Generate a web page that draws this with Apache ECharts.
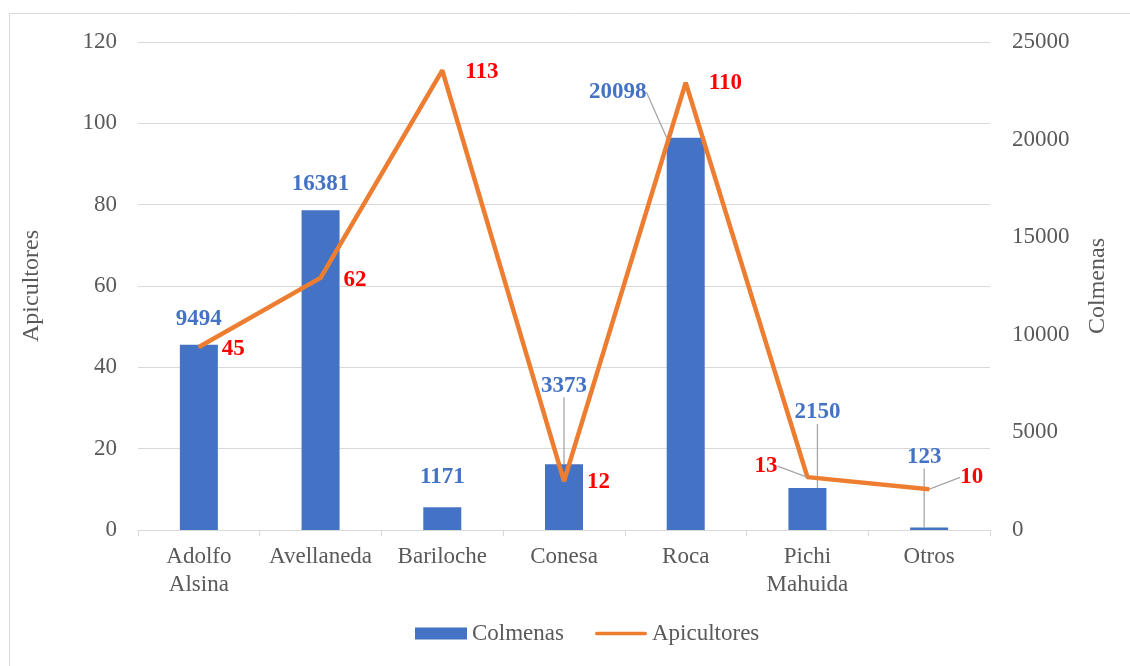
<!DOCTYPE html>
<html>
<head>
<meta charset="utf-8">
<script src="https://cdn.jsdelivr.net/npm/echarts@6/dist/echarts.min.js"></script>
<style>
html,body{margin:0;padding:0;background:#fff;}
#c{width:1130px;height:666px;}
</style>
</head>
<body>
<div id="c"></div>
<script>
const categories = ['Adolfo\nAlsina', 'Avellaneda', 'Bariloche', 'Conesa', 'Roca', 'Pichi\nMahuida', 'Otros'];
const colmenas = [9494, 16381, 1171, 3373, 20098, 2150, 123];
const apicultores = [45, 62, 113, 12, 110, 13, 10];
const leftTicks = {min: 0, max: 120, interval: 20};
const rightTicks = {min: 0, max: 25000, interval: 5000};

// label placement offsets (layout only)
const barLabelOffsets = [[0,-2],[0,-3],[0,-7],[0,-55],[-68,-22],[10,-52],[-5,-47]];
const barLabelLines = [false,false,false,true,true,true,true];
const lineLabelOffsets = [[0,2],[0,2],[0,2],[0,1],[0,0],[-76,-11],[8,-12]];
const lineLabelLines = [false,false,false,false,false,true,true];

const FONT = "'Liberation Serif', 'Times New Roman', serif";
const GRAY = '#595959';

const chart = echarts.init(document.getElementById('c'));
chart.setOption({
  animation: false,
  textStyle: {fontFamily: FONT},
  graphic: [{
    type: 'rect', left: 7, top: 11,
    shape: {width: 1140, height: 680},
    style: {fill: 'none', stroke: '#d9d9d9', lineWidth: 1},
    silent: true, z: -10
  }],
  grid: {left: 138, right: 140, top: 42, bottom: 136},
  legend: {
    bottom: 16, left: 410,
    itemWidth: 52, itemHeight: 12, itemGap: 31,
    textStyle: {fontFamily: FONT, fontSize: 23, color: GRAY},
    data: [
      {name: 'Colmenas', icon: 'rect'},
      {name: 'Apicultores', icon: 'path://M2,0h52a2,2 0 0 1 0,4h-52a2,2 0 0 1 0,-4z'}
    ]
  },
  xAxis: {
    type: 'category',
    data: categories,
    axisLine: {lineStyle: {color: '#d9d9d9'}},
    axisTick: {show: true, length: 6, lineStyle: {color: '#d9d9d9'}},
    axisLabel: {fontFamily: FONT, fontSize: 23, color: GRAY, lineHeight: 28, margin: 13, interval: 0}
  },
  yAxis: [{
    type: 'value',
    min: leftTicks.min, max: leftTicks.max, interval: leftTicks.interval,
    name: 'Apicultores', nameLocation: 'middle', nameGap: 94,
    nameTextStyle: {fontFamily: FONT, fontSize: 24, color: GRAY},
    axisLine: {show: false}, axisTick: {show: false},
    axisLabel: {fontFamily: FONT, fontSize: 23, color: GRAY, margin: 21},
    splitLine: {lineStyle: {color: '#d9d9d9', width: 1}}
  }, {
    type: 'value',
    min: rightTicks.min, max: rightTicks.max, interval: rightTicks.interval,
    name: 'Colmenas', nameLocation: 'middle', nameGap: 96,
    nameTextStyle: {fontFamily: FONT, fontSize: 24, color: GRAY},
    axisLine: {show: false}, axisTick: {show: false},
    axisLabel: {fontFamily: FONT, fontSize: 23, color: GRAY, margin: 22, formatter: v => String(v)},
    splitLine: {show: false}
  }],
  series: [{
    name: 'Colmenas',
    type: 'bar',
    yAxisIndex: 1,
    barWidth: 38,
    itemStyle: {color: '#4472C4'},
    data: colmenas.map((v, i) => ({
      value: v,
      labelLine: {show: barLabelLines[i]}
    })),
    label: {
      show: true, position: 'top', distance: 12,
      fontFamily: FONT, fontSize: 23, fontWeight: 'bold', color: '#4472C4'
    },
    labelLine: {lineStyle: {color: '#a6a6a6', width: 1.3}},
    labelLayout: function (p) {
      const o = barLabelOffsets[p.dataIndex];
      return {dx: o[0], dy: o[1]};
    }
  }, {
    name: 'Apicultores',
    type: 'line',
    yAxisIndex: 0,
    symbol: 'circle', symbolSize: 2,
    lineStyle: {color: '#ED7D31', width: 4.5},
    itemStyle: {color: '#ED7D31'},
    data: apicultores.map((v, i) => ({
      value: v,
      labelLine: {show: lineLabelLines[i]}
    })),
    label: {
      show: true, position: 'right', distance: 22,
      fontFamily: FONT, fontSize: 23, fontWeight: 'bold', color: '#FF0000'
    },
    labelLine: {lineStyle: {color: '#a6a6a6', width: 1.3}},
    labelLayout: function (p) {
      const o = lineLabelOffsets[p.dataIndex];
      return {dx: o[0], dy: o[1]};
    },
    z: 3
  }]
});
</script>
</body>
</html>
